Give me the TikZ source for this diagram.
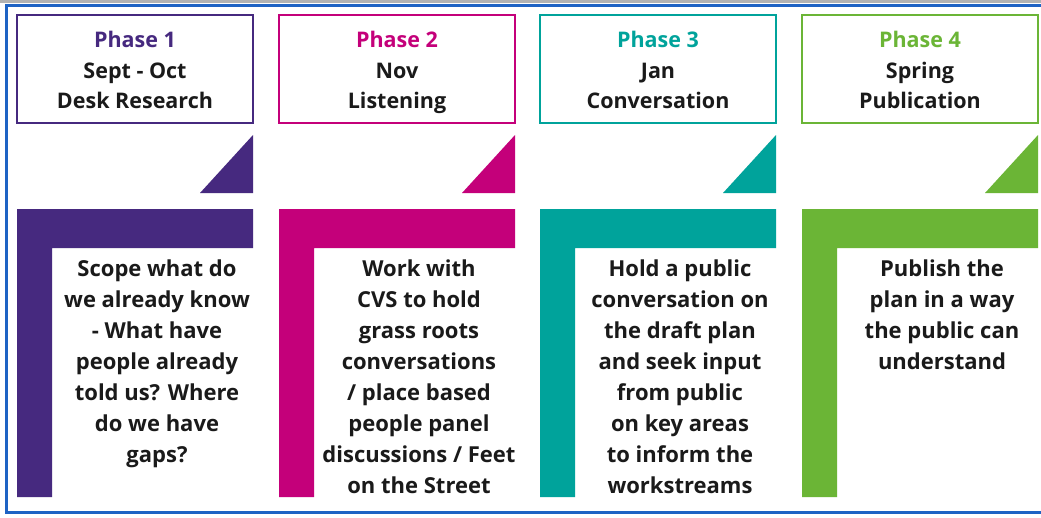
\documentclass[tikz,border=0pt]{standalone}
\usepackage{fontspec}
\setmainfont{Open Sans}
\definecolor{pone}{HTML}{46297F}
\definecolor{ptwo}{HTML}{C4007A}
\definecolor{pthree}{HTML}{00A39B}
\definecolor{pfour}{HTML}{6BB536}
\definecolor{frameblue}{HTML}{1E63C4}
\definecolor{txt}{HTML}{1A1A1A}
\tikzset{
  headbox/.style={draw=#1, line width=1.5pt, fill=white, minimum width=236pt, minimum height=108pt, inner sep=0pt},
  headtext/.style={inner sep=0pt, align=center, font=\fontsize{21.5}{30.5}\selectfont\bfseries, text=txt},
  bodytext/.style={anchor=north, inner sep=0pt, align=center, font=\fontsize{22}{31}\selectfont\bfseries, text=txt},
}
\newcommand{\phasecol}[7]{%
  % #1 name, #2 left x, #3 colour, #4 phase label, #5 date, #6 title, #7 body
  \node[headbox=#3] (h#1) at (#2+118,69) {};
  \node[headtext] (t#1) at ([yshift=-3pt]h#1.center) {\textcolor{#3}{#4}\strut\\#5\strut\\#6\strut};
  \fill[#3] (#2+236,135) -- (#2+236,193) -- (#2+183,193) -- cycle;
  \fill[#3] (#2,209) -- (#2+236,209) -- (#2+236,248) -- (#2+35,248) -- (#2+35,497) -- (#2,497) -- cycle;
  \node[bodytext] (b#1) at (#2+140,260) {#7};
}
\begin{document}
\begin{tikzpicture}[x=1pt,y=-1pt]
\useasboundingbox (0,0) rectangle (1041,517);
\fill[white] (0,0) rectangle (1041,517);
\fill[gray!60] (0,0) rectangle (1041,3);
\begin{scope}
\clip (0,0) rectangle (1041,517);
\draw[frameblue, line width=3pt] (6.5,5.5) rectangle (1050,512.5);
\end{scope}
\phasecol{1}{17}{pone}{Phase 1}{Sept - Oct}{Desk Research}{Scope what do\\we already know\\- What have\\people already\\told us? Where\\do we have\\gaps?}
\phasecol{2}{279}{ptwo}{Phase 2}{Nov}{Listening}{Work with\\CVS to hold\\grass roots\\conversations\\/ place based\\people panel\\discussions / Feet\\on the Street}
\phasecol{3}{540}{pthree}{Phase 3}{Jan}{Conversation}{Hold a public\\conversation on\\the draft plan\\and seek input\\from public\\on key areas\\to inform the\\workstreams}
\phasecol{4}{802}{pfour}{Phase 4}{Spring}{Publication}{Publish the\\plan in a way\\the public can\\understand}
\end{tikzpicture}
\end{document}
